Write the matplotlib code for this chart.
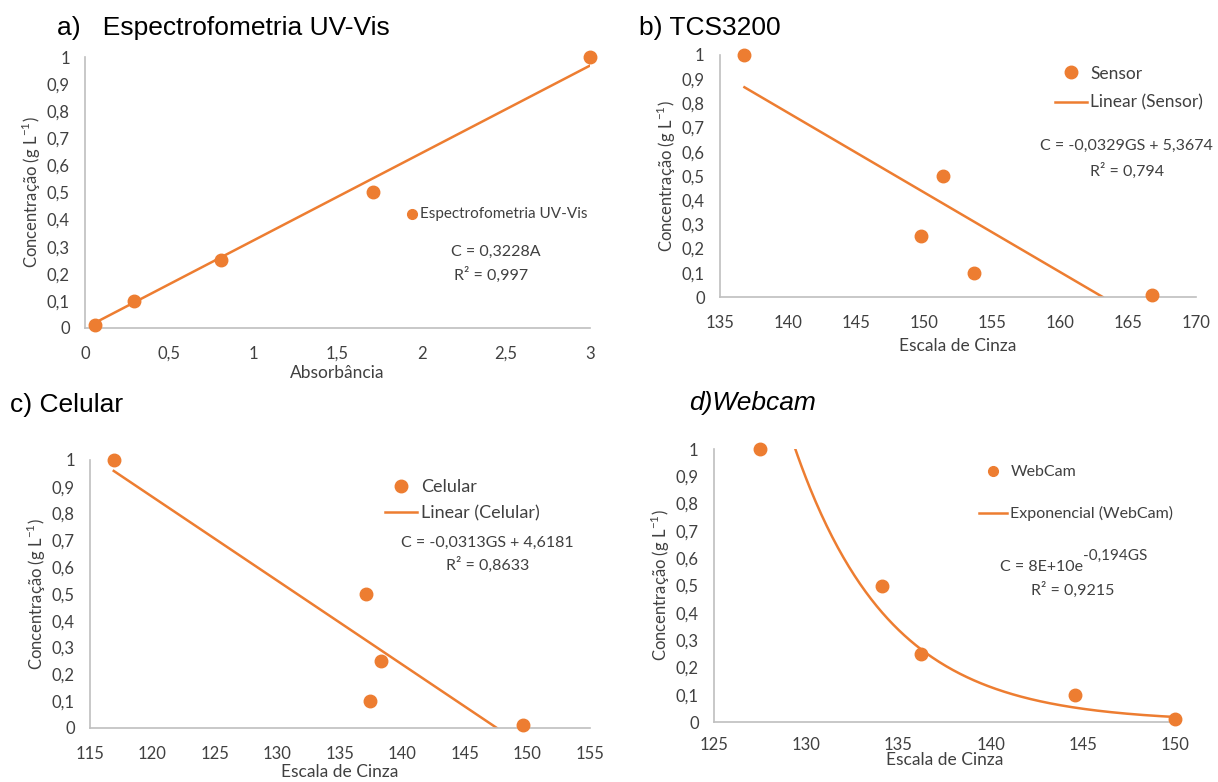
import numpy as np
import matplotlib
matplotlib.use("Agg")
import matplotlib.pyplot as plt
from matplotlib.lines import Line2D

plt.rcParams["font.family"] = ["Lato", "DejaVu Sans"]
plt.rcParams["mathtext.fontset"] = "custom"
plt.rcParams["mathtext.rm"] = "Lato"

ORANGE = "#ED7D31"
GRID = "#BFBFBF"
TXT = "#404040"
TITLE_FONT = ["Liberation Sans", "DejaVu Sans"]
YLABEL = "Concentração (g L$^{-1}$)"

# a) UV-Vis
uv_abs = [0.06, 0.29, 0.81, 1.71, 3.0]
uv_conc = [0.01, 0.10, 0.25, 0.50, 1.00]
uv_slope = 0.3228

# b) TCS3200
tcs_gs = [136.8, 151.4, 149.8, 153.7, 166.8]
tcs_conc = [1.00, 0.50, 0.25, 0.10, 0.01]
tcs_slope, tcs_icpt = -0.0329, 5.3674

# c) Celular
cel_gs = [116.9, 137.1, 138.3, 137.4, 149.6]
cel_conc = [1.00, 0.50, 0.25, 0.10, 0.01]
cel_slope, cel_icpt = -0.0313, 4.6181

# d) Webcam
web_gs = [127.5, 134.1, 136.2, 144.6, 150.0]
web_conc = [1.00, 0.50, 0.25, 0.10, 0.01]
web_a, web_b = 8e10, -0.194

yticks = np.round(np.arange(0, 1.01, 0.1), 1)
ylabels = ["0" if v == 0 else ("1" if v == 1 else f"{v:.1f}".replace(".", ",")) for v in yticks]


def fmt(v):
    return f"{v:g}".replace(".", ",")


def style(ax, xlim, xticks, xlabel, xpad=13, xlabelpad=3):
    ax.set_xlim(*xlim)
    ax.set_ylim(0, 1)
    ax.set_xticks(xticks)
    ax.set_xticklabels([fmt(t) for t in xticks])
    ax.set_yticks(yticks)
    ax.set_yticklabels(ylabels)
    for s in ("top", "right"):
        ax.spines[s].set_visible(False)
    for s in ("left", "bottom"):
        ax.spines[s].set_color(GRID)
        ax.spines[s].set_linewidth(1.2)
    ax.tick_params(length=0, labelsize=12, colors=TXT)
    ax.tick_params(axis="x", pad=xpad)
    ax.tick_params(axis="y", pad=11)
    ax.set_xlabel(xlabel, fontsize=12.5, color=TXT, labelpad=xlabelpad)
    ax.set_ylabel(YLABEL, fontsize=12, color=TXT, labelpad=3)


def legend(ax, labels, anchor, fs, spacing, ms=9):
    leg = ax.legend(handles=[Line2D([], [], ls="", marker="o", color=ORANGE, ms=ms, label=labels[0]),
                             Line2D([], [], color=ORANGE, lw=1.8, label=labels[1])],
                    loc="upper left", bbox_to_anchor=anchor, frameon=False,
                    fontsize=fs, handlelength=1.8, handletextpad=0.2, labelspacing=spacing,
                    borderaxespad=0)
    for t in leg.get_texts():
        t.set_color(TXT)


fig = plt.figure(figsize=(12.18, 7.82), dpi=100)

# ── a) ──
ax = fig.add_axes([0.0698, 0.5806, 0.4146, 0.3465])
xs = np.array([uv_abs[0], uv_abs[-1]])
ax.plot(xs, uv_slope * xs, color=ORANGE, lw=1.8)
ax.plot(uv_abs, uv_conc, "o", color=ORANGE, ms=9, clip_on=False, zorder=5)
style(ax, (0, 3), [0, 0.5, 1, 1.5, 2, 2.5, 3], "Absorbância", xlabelpad=2)
ax.plot(1.94, 0.42, "o", color=ORANGE, ms=7, clip_on=False)
ax.text(1.99, 0.42, "Espectrofometria UV-Vis", fontsize=11, color=TXT, va="center")
ax.text(2.44, 0.28, "C = 0,3228A", fontsize=11.5, color=TXT, ha="center", va="center")
ax.text(2.41, 0.196, "R² = 0,997", fontsize=11.5, color=TXT, ha="center", va="center")
fig.text(0.047, 0.964, "a)   Espectrofometria UV-Vis", fontsize=19, family=TITLE_FONT, va="center")

# ── b) ──
ax = fig.add_axes([0.5911, 0.6202, 0.3908, 0.3095])
xs = np.array([tcs_gs[0], -tcs_icpt / tcs_slope])
ax.plot(xs, tcs_slope * xs + tcs_icpt, color=ORANGE, lw=1.8)
ax.plot(tcs_gs, tcs_conc, "o", color=ORANGE, ms=9, clip_on=False, zorder=5)
style(ax, (135, 170), list(range(135, 171, 5)), "Escala de Cinza", xlabelpad=5)
legend(ax, ["Sensor", "Linear (Sensor)"], (0.69, 0.985), 12.5, 0.75)
ax.text(0.855, 0.625, "C = -0,0329GS + 5,3674", transform=ax.transAxes, fontsize=11.5,
        color=TXT, ha="center", va="center")
ax.text(0.855, 0.52, "R² = 0,794", transform=ax.transAxes, fontsize=11.5,
        color=TXT, ha="center", va="center")
fig.text(0.525, 0.964, "b) TCS3200", fontsize=19, family=TITLE_FONT, va="center")

# ── c) ──
ax = fig.add_axes([0.0739, 0.0691, 0.4105, 0.3427])
xs = np.array([cel_gs[0], -cel_icpt / cel_slope])
ax.plot(xs, cel_slope * xs + cel_icpt, color=ORANGE, lw=1.8)
ax.plot(cel_gs, cel_conc, "o", color=ORANGE, ms=9, clip_on=False, zorder=5)
style(ax, (115, 155), list(range(115, 156, 5)), "Escala de Cinza", xlabelpad=1.5)
legend(ax, ["Celular", "Linear (Celular)"], (0.575, 0.955), 13, 0.55)
ax.text(0.795, 0.69, "C = -0,0313GS + 4,6181", transform=ax.transAxes, fontsize=11.5,
        color=TXT, ha="center", va="center")
ax.text(0.795, 0.61, "R² = 0,8633", transform=ax.transAxes, fontsize=11.5,
        color=TXT, ha="center", va="center")
fig.text(0.008, 0.482, "c) Celular", fontsize=19, family=TITLE_FONT, va="center")

# ── d) ──
ax = fig.add_axes([0.5862, 0.0767, 0.3785, 0.3491])
xs = np.linspace(web_gs[0], web_gs[-1], 300)
ax.plot(xs, web_a * np.exp(web_b * xs), color=ORANGE, lw=1.8)
ax.plot(web_gs, web_conc, "o", color=ORANGE, ms=9, clip_on=False, zorder=5)
style(ax, (125, 150), list(range(125, 151, 5)), "Escala de Cinza", xpad=11, xlabelpad=-1)
legend(ax, ["WebCam", "Exponencial (WebCam)"], (0.56, 0.965), 11.5, 1.7, ms=7)
ax.text(0.800, 0.568, "C = 8E+10e", transform=ax.transAxes, fontsize=11.5,
        color=TXT, ha="right", va="center")
ax.text(0.800, 0.61, "-0,194GS", transform=ax.transAxes, fontsize=11,
        color=TXT, ha="left", va="center")
ax.text(0.777, 0.484, "R² = 0,9215", transform=ax.transAxes, fontsize=11.5,
        color=TXT, ha="center", va="center")
fig.text(0.566, 0.485, "d)Webcam", fontsize=19, family=TITLE_FONT, style="italic", va="center")

fig.savefig("out.png", dpi=100)
